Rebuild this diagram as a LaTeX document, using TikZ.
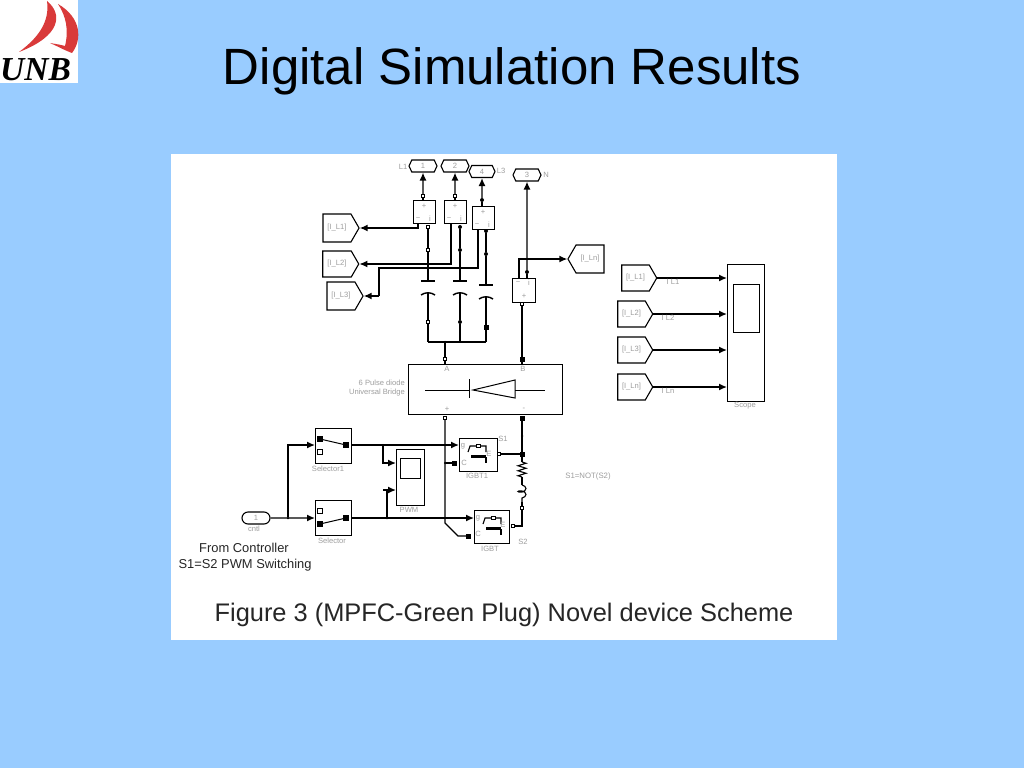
\documentclass[tikz,border=0pt]{standalone}
\usepackage{fontspec}
\setmainfont{Liberation Sans}
\newfontfamily\logofont{Liberation Serif}
\usetikzlibrary{calc,shapes.symbols,shapes.misc,arrows.meta,decorations.pathmorphing}
\definecolor{slidebg}{HTML}{99CCFF}
\definecolor{sailred}{HTML}{D93A3A}
\definecolor{faint}{gray}{0.62}
\newcommand{\tinytxt}{\fontsize{7.6}{8}\selectfont}
\tikzset{
  x=1pt,y=-1pt,
  block/.style={draw,line width=1.2pt,fill=white,inner sep=0pt,anchor=north west},
  wire/.style={line width=1.4pt,line join=miter},
  arr/.style={wire,-{Latex[length=8pt,width=7pt]}},
  rarr/.style={wire,{Latex[length=8pt,width=7pt]}-},
  tagbox/.style={draw,line width=1.1pt,signal,signal to=east,signal pointer angle=120,inner sep=0pt,text=faint,font=\tinytxt,minimum width=36pt,minimum height=26pt},
  inport/.style={draw,line width=1.1pt,signal,signal to=east and west,signal pointer angle=130,inner sep=0pt,text=faint,font=\tinytxt,minimum width=28pt,minimum height=12pt},
  lbl/.style={text=faint,font=\tinytxt,inner sep=0pt},
  pf/.style={draw,fill=black,minimum size=3.5pt,inner sep=0pt},
  ph/.style={draw,fill=white,line width=.9pt,minimum size=3.5pt,inner sep=0pt},
  pb/.style={draw,fill=black,minimum size=5pt,inner sep=0pt},
  dot/.style={circle,fill=black,minimum size=4pt,inner sep=0pt},
  igbtsym/.pic={
    \draw[line width=1.1pt] (9,14) -- (11,8) -- (27,8) -- (27,14);
    \draw[line width=1.2pt] (12,19) -- (27,19);
    \draw[line width=.8pt] (12,17) -- (27,17);
    \draw[line width=1.1pt] (27,19) -- (27,25);
    \draw[line width=.9pt,fill=white] (17,6) rectangle (21,9);
  }
}
\begin{document}
\begin{tikzpicture}
\useasboundingbox (0,0) rectangle (1024,768);
\fill[slidebg] (0,0) rectangle (1024,768);
% logo
\fill[white] (0,0) rectangle (78,83);
\fill[sailred] (47,1) .. controls (63,14) and (61,36) .. (19,52) .. controls (38,38) and (50,22) .. (47,1) -- cycle;
\fill[sailred] (58,4) .. controls (82,18) and (82,40) .. (72,53) .. controls (64,50) and (57,46) .. (50,43) .. controls (56,44) and (62,45) .. (65,46) .. controls (69,30) and (66,16) .. (58,4) -- cycle;
\node[font=\logofont\bfseries\itshape\fontsize{33.5}{33}\selectfont,inner sep=0pt,anchor=base west] (logotext) at (0,81) {UNB};
% title
\node[font=\fontsize{51}{54}\selectfont,inner sep=0pt,anchor=base] (title) at (512,84) {Digital Simulation Results};
% panel
\fill[white] (171,154) rectangle (837,640);
\node[font=\fontsize{25.4}{27}\selectfont,text=black!85,inner sep=0pt,anchor=base] (caption) at (504,621) {Figure 3 (MPFC-Green Plug) Novel device Scheme};

% inports
\node[inport] (in1) at (423,166) {1};
\node[inport] (in2) at (455,166) {2};
\node[inport,minimum width=26pt] (in4) at (482,171.5) {4};
\node[inport] (in3) at (527,175) {3};
\node[lbl] (lL1) at (403,167) {L1};
\node[lbl] (lL3) at (501,171) {L3};
\node[lbl] (lN) at (546,175) {N};

% current meters
\foreach \n/\x/\y in {m1/413/200,m2/444/200,m3/472/206}{
  \node[block,minimum width=22pt,minimum height=23pt] (\n) at (\x,\y) {};
  \node[lbl] (\n p) at ($(\x,\y)+(11,6)$) {+};
  \node[lbl] (\n n) at ($(\x,\y)+(5,19)$) {−};
  \node[lbl] (\n i) at ($(\x,\y)+(17,19)$) {i};
}
\node[block,minimum width=23pt,minimum height=24pt] (m4) at (512,278) {};
\node[lbl] (m4n) at (518,283) {−};
\node[lbl] (m4i) at (529,283) {i};
\node[lbl] (m4p) at (524,296) {+};

% tags
\node[tagbox,minimum height=28pt] (t1) at (337,228) {[I\_L1]};
\node[tagbox] (t2) at (337,264) {[I\_L2]};
\node[tagbox,minimum height=28pt] (t3) at (341,296) {[I\_L3]};
\node[tagbox,signal to=west,minimum height=28pt] (t4) at (590,259) {[I\_Ln]};
\node[tagbox,minimum width=35pt] (r1) at (635.5,278) {[I\_L1]};
\node[tagbox,minimum width=35pt] (r2) at (631.5,314) {[I\_L2]};
\node[tagbox,minimum width=35pt] (r3) at (631.5,350) {[I\_L3]};
\node[tagbox,minimum width=35pt] (r4) at (631.5,387) {[I\_Ln]};

% ports at the meters
\node[ph] (a1) at (423,196) {};
\node[ph] (a2) at (455,196) {};
\node[dot] (a3) at (482,200) {};
\node[dot] (a4) at (527,272) {};
\node[ph] (b1) at (428,227) {};
\node[dot] (b2) at (460,227) {};
\node[dot] (b3) at (486,231) {};
\node[ph] (c1) at (428,250) {};
\node[dot] (c2) at (460,250) {};
\node[dot] (c3) at (486,254) {};
\node[ph] (d1) at (428,322) {};
\node[dot] (d2) at (460,322) {};
\node[pf] (d3) at (486,327) {};
\coordinate (e1) at (428,342);
\coordinate (e2) at (460,342);
\coordinate (e3) at (486,342);
\node[dot,minimum size=2.5pt] (bus) at (445,342) {};
\node[ph] (busp) at (445,359) {};
\node[ph] (m4bp) at (522,304) {};
\node[pf] (bp) at (522,359) {};

% capacitors
\coordinate (cap1t) at (428,281); \coordinate (cap1b) at (428,293);
\coordinate (cap2t) at (460,281); \coordinate (cap2b) at (460,293);
\coordinate (cap3t) at (486,285); \coordinate (cap3b) at (486,297);
\foreach \c in {1,2,3}{
  \draw[wire] ($(cap\c t)+(-7,0)$) -- ($(cap\c t)+(7,0)$);
  \draw[wire] ($(cap\c b)+(-7,2)$) .. controls ($(cap\c b)+(-3,-1)$) and ($(cap\c b)+(3,-1)$) .. ($(cap\c b)+(7,2)$);
}
\draw[wire] (b1) -- (c1) -- (cap1t);
\draw[wire] (b2) -- (c2) -- (cap2t);
\draw[wire] (b3) -- (c3) -- (cap3t);
\draw[wire] (cap1b) -- (d1) -- (e1);
\draw[wire] (cap2b) -- (d2) -- (e2);
\draw[wire] (cap3b) -- (d3) -- (e3);
\draw[wire] (e1) -- (e3);
\draw[wire] (bus) -- (busp);

% input wires
\draw[rarr] (in1) -- (a1);
\draw[rarr] (in2) -- (a2);
\draw[rarr] (in4) -- (a3);
\draw[rarr] (in3) -- (a4);
\draw[wire] (a1) -- (m1.north -| a1);
\draw[wire] (a2) -- (m2.north -| a2);
\draw[wire] (a3) -- (m3.north -| a3);
\draw[wire] (a4) -- (m4.north -| a4);

% measurement wires
\coordinate (q1) at (418,223);
\coordinate (q2) at (451,223);
\coordinate (q3) at (478,229);
\coordinate (q3a) at (478,268);
\coordinate (q3b) at (379,268);
\coordinate (q3c) at (379,296);
\coordinate (q4) at (519,278);
\draw[arr] (q1) |- (t1.east);
\draw[arr] (q2) |- (t2.east);
\draw[wire] (q3) -- (q3a) -- (q3b) -- (q3c);
\draw[arr] (q3c) -- (t3.east);
\draw[arr] (q4) |- (t4.west);
\draw[wire] (m4bp) -- (bp);

% bridge
\node[block,minimum width=154pt,minimum height=50pt] (br) at (408,364) {};
\coordinate (diodel) at (425,390);
\coordinate (diodek) at (469,390);
\coordinate (diodet) at (473,390);
\coordinate (diodeb) at (515,390);
\coordinate (dioder) at (545,390);
\draw[line width=1pt] (diodel) -- (diodek);
\draw[line width=1pt] (diodeb) -- (dioder);
\draw[line width=1pt] (469,379) -- (469,398);
\draw[line width=1pt] (diodet) -- (515,380) -- (515,398) -- cycle;
\node[lbl,align=right,anchor=east,font=\fontsize{7.6}{8.5}\selectfont] (brl) at (405,388) {6 Pulse diode\\Universal Bridge};
\node[lbl] (brA) at (447,369) {A};
\node[lbl] (brB) at (523,369) {B};
\node[lbl] (brP) at (447,409) {+};
\node[lbl] (brM) at (524,409) {-};
\draw[wire] (busp) -- (busp |- br.north);
\draw[wire] (bp) -- (bp |- br.north);
\node[ph] (bl) at (445,418) {};
\node[pf] (brt) at (522,418) {};

% IGBTs
\node[block,minimum width=38pt,minimum height=33pt] (ig1) at (459,438) {};
\node[block,minimum width=35pt,minimum height=33pt] (ig2) at (474,510) {};
\pic at (459,438) {igbtsym};
\pic at (474,510) {igbtsym};
\node[lbl] (ig1g) at (463,446) {g};
\node[lbl] (ig1c) at (464,463) {C};
\node[lbl] (ig1e) at (489,454) {E};
\node[lbl] (ig2g) at (478,518) {g};
\node[lbl] (ig2c) at (478,534) {C};
\node[lbl] (ig2e) at (503,525) {E};
\node[lbl] (ig1l) at (477,476) {IGBT1};
\node[lbl] (ig2l) at (490,549) {IGBT};
\node[lbl] (s1) at (503,439) {S1};
\node[lbl] (s2) at (523,542) {S2};
\node[lbl,font=\fontsize{7.8}{8}\selectfont] (notl) at (588,476) {S1=NOT(S2)};
\node[ph] (ig1ep) at (499,454) {};
\node[ph] (ig2ep) at (513,526) {};
\node[pf] (ig1cp) at (454,463) {};
\node[pf] (ig2cp) at (468,536) {};

% right leg
\node[dot,minimum size=2.5pt] (j0) at (522,436) {};
\node[pf] (j1) at (522,454) {};
\coordinate (rt) at (522,462);
\coordinate (rb) at (522,477);
\coordinate (lt) at (522,485);
\coordinate (lb) at (522,502);
\node[ph] (lp) at (522,508) {};
\coordinate (j2) at (522,526);
\draw[wire] (brt) -- (j1) -- (rt);
\draw[wire,line width=1.1pt,decorate,decoration={zigzag,amplitude=4pt,segment length=5pt}] (rt) -- (rb);
\draw[wire] (rb) -- (lt);
\draw[wire,line width=1.1pt,decorate,decoration={coil,amplitude=4pt,segment length=6pt}] (lt) -- (lb);
\draw[wire] (lb) -- (lp) -- (j2) -- (ig2ep);
\draw[wire] (ig1ep) -- (j1);
\coordinate (d0) at (445,523);
\coordinate (d1x) at (458,536);
\draw[wire] (bl) -- (d0) -- (d1x) -- (ig2cp);
\node[dot,minimum size=2.5pt] (j3) at (445,463) {};
\draw[wire] (j3) -- (ig1cp);

% selectors
\node[block,minimum width=36pt,minimum height=35pt] (sel1) at (315,428) {};
\node[block,minimum width=36pt,minimum height=35pt] (sel2) at (315,500) {};
\node[pb] (s1a) at (320,439) {};
\node[ph,minimum size=4.5pt] (s1b) at (320,452) {};
\node[pb] (s1o) at (346,445) {};
\node[ph,minimum size=4.5pt] (s2a) at (320,511) {};
\node[pb] (s2b) at (320,524) {};
\node[pb] (s2o) at (346,518) {};
\draw[line width=1pt] (s1a) -- (s1o);
\draw[line width=1pt] (s2b) -- (s2o);
\node[lbl] (sel1l) at (328,469) {Selector1};
\node[lbl] (sel2l) at (332,541) {Selector};

% PWM scope
\node[block,minimum width=28pt,minimum height=56pt] (pwm) at (396,449) {};
\node[draw,line width=1.1pt,minimum width=20pt,minimum height=20pt,inner sep=0pt,anchor=north west] (pwmin) at (400,458) {};
\node[lbl] (pwml) at (409,510) {PWM};

% control input
\node[draw,line width=1.1pt,rounded rectangle,minimum width=28pt,minimum height=12pt,inner sep=0pt,text=faint,font=\tinytxt] (cntl) at (256,518) {1};
\node[lbl] (cntll) at (254,529) {cntl};
\node[font=\fontsize{12.9}{14}\selectfont,text=black!85,inner sep=0pt] (fc) at (244,548) {From Controller};
\node[font=\fontsize{12.9}{14}\selectfont,text=black!85,inner sep=0pt] (s12) at (245,565) {S1=S2 PWM Switching};

\node[dot,minimum size=2.5pt] (k0) at (288,518) {};
\coordinate (k1) at (288,445);
\draw[arr] (cntl) -- (sel2.west |- cntl);
\draw[arr] (k0) -- (k1) -- (sel1.west |- k1);
\coordinate (g1) at (459,445);
\coordinate (g2) at (474,518);
\draw[arr] (sel1.east |- g1) -- (g1);
\draw[arr] (sel2.east |- g2) -- (g2);
\coordinate (n1) at (383,445);
\coordinate (n2) at (383,463);
\coordinate (n3) at (387,518);
\coordinate (n4) at (387,490);
\coordinate (n5) at (383,490);
\draw[arr] (n1) -- (n2) -- (pwm.west |- n2);
\draw[wire] (n3) -- (n4);
\draw[arr] (n5) -- (pwm.west |- n5);
\node[dot,minimum size=2.5pt] (n1d) at (n1) {};
\node[dot,minimum size=2.5pt] (n3d) at (n3) {};

% scope
\node[block,minimum width=37pt,minimum height=137pt] (scope) at (727,264) {};
\node[draw,line width=1.1pt,minimum width=26pt,minimum height=48pt,inner sep=0pt,anchor=north west] (scopein) at (733,284) {};
\node[lbl] (scopel) at (745,406) {Scope};
\draw[arr] (r1.east) -- (scope.west |- r1.east);
\draw[arr] (r2.east) -- (scope.west |- r2.east);
\draw[arr] (r3.east) -- (scope.west |- r3.east);
\draw[arr] (r4.east) -- (scope.west |- r4.east);
\node[lbl] (il1) at (673,282) {I L1};
\node[lbl] (il2) at (668,318) {I L2};
\node[lbl] (il4) at (668,391) {I Ln};
\end{tikzpicture}
\end{document}
